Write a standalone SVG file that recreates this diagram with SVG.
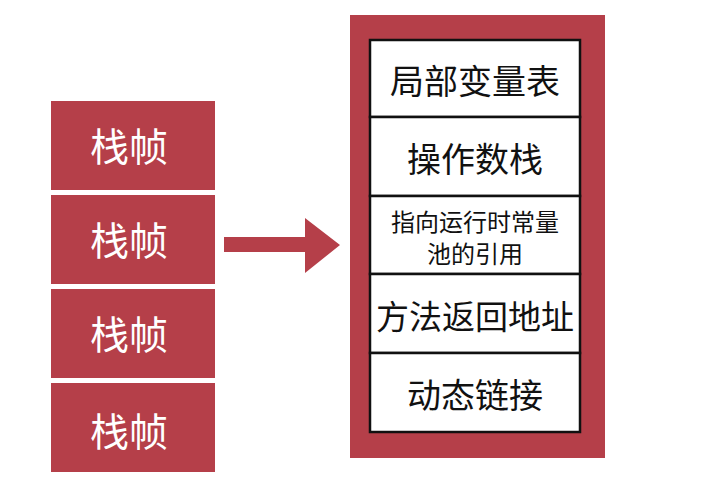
<svg xmlns="http://www.w3.org/2000/svg" width="710" height="502" viewBox="0 0 710 502">
<style>
.frame{fill:#b53f49}
.cell{fill:#fff;stroke:#111;stroke-width:2.5}
.wt{fill:#fff;font-family:"Noto Sans CJK SC","Noto Sans",sans-serif;font-size:39px;text-anchor:middle;dominant-baseline:central}
.bt{fill:#111;font-family:"Noto Sans CJK SC","Noto Sans",sans-serif;text-anchor:middle;dominant-baseline:central}
</style>
<rect width="710" height="502" fill="#fff"/>
<g id="frame1"><rect class="frame" x="51" y="101" width="164" height="89"/><text class="wt" x="129" y="144">栈帧</text></g>
<g id="frame2"><rect class="frame" x="51" y="195" width="164" height="89"/><text class="wt" x="129" y="238">栈帧</text></g>
<g id="frame3"><rect class="frame" x="51" y="289" width="164" height="89"/><text class="wt" x="129" y="332">栈帧</text></g>
<g id="frame4"><rect class="frame" x="51" y="383" width="164" height="89"/><text class="wt" x="129" y="429">栈帧</text></g>
<g id="connectors"><polygon class="frame" points="224,237 305,237 305,218 340,245 305,273 305,252 224,252"/></g>
<g id="detail">
<rect class="frame" x="350" y="15" width="255" height="443"/>
<g id="locals"><rect class="cell" x="370" y="40" width="210" height="77"/><text class="bt" x="475" y="79" font-size="34">局部变量表</text></g>
<g id="operand"><rect class="cell" x="370" y="117" width="210" height="79"/><text class="bt" x="475" y="157" font-size="34">操作数栈</text></g>
<g id="constref"><rect class="cell" x="370" y="196" width="210" height="78"/><text class="bt" x="475" y="220" font-size="24">指向运行时常量</text><text class="bt" x="475" y="252" font-size="24">池的引用</text></g>
<g id="return"><rect class="cell" x="370" y="274" width="210" height="79"/><text class="bt" x="475" y="315" font-size="33">方法返回地址</text></g>
<g id="dynlink"><rect class="cell" x="370" y="353" width="210" height="79"/><text class="bt" x="475" y="393" font-size="34">动态链接</text></g>
</g>
</svg>
